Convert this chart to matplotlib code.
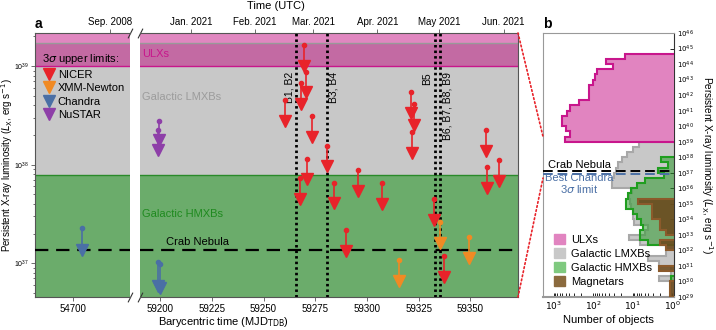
import numpy as np
import matplotlib
matplotlib.use("Agg")
import matplotlib.pyplot as plt
from matplotlib.lines import Line2D
from matplotlib.patches import Patch, ConnectionPatch

plt.rcParams['font.family'] = ['Liberation Sans', 'DejaVu Sans']
plt.rcParams['font.size'] = 7

# ---- panel a data (MJD, log10 Lx of the 3 sigma upper limit)
nicer_mjd = [59260.4, 59267.8, 59268.0, 59269.6, 59270.5, 59271.2, 59273.3, 59280.8,
             59283.9, 59289.9, 59295.8, 59307.4, 59321.1, 59321.7, 59322.9, 59332.4,
             59337.2, 59357.3, 59357.8, 59363.8]
nicer_logl = [38.655, 37.862, 38.825, 39.213, 38.942, 38.060, 38.493, 38.192,
              37.817, 37.337, 37.946, 37.810, 38.736, 38.328, 38.615, 37.651,
              37.073, 38.351, 37.973, 38.042]
xmm_mjd = [59315.3, 59335.4, 59349.3]
xmm_logl = [37.032, 37.415, 37.263]
chandra_mjd = [54702.4, 59198.9, 59200.0]
chandra_logl = [37.354, 37.012, 36.992]
nustar_mjd = [59198.9, 59199.7]
nustar_logl = [38.351, 38.445]

bursts_mjd = [59265.7, 59280.8, 59333.0, 59335.3]
bursts_lab = ["B1, B2", "B3, B4", "B5", "B6, B7, B8, B9"]

crab_logl = 37.134
chandra_best_logl = 36.95
ulx_lo = 39.0
lmxb_hi = 39.233
hmxb_hi = 37.894

top_ticks_r = [59215, 59246, 59274, 59305, 59335, 59366]
top_labels_r = ["Jan. 2021", "Feb. 2021", "Mar. 2021", "Apr. 2021", "May 2021", "Jun. 2021"]
top_ticks_l = [54710]
top_labels_l = ["Sep. 2008"]

# ---- panel b histograms (1/3 dex bins, counts listed from the lowest bin up; 0.5 = empty)
ulx_start = 39.0
ulx_counts = [515, 393, 478, 617, 617, 457, 378, 231, 130, 130, 130, 99, 89, 82, 32, 48, 16]
lmxb_start = 29.0
lmxb_counts = [1.05, 1.05, 1.05, 2.2, 1.05, 1.05, 2.2, 4.2, 1.4, 1.4, 6.5, 12.7, 5, 4, 9,
               10, 10, 11, 12, 12.6, 10.7, 33, 33, 30, 26, 23.4, 18.6, 14, 10, 7]
hmxb_start = 32.333
hmxb_counts = [4.0, 6.5, 6.5, 5.5, 6.3, 7.9, 10, 14.7, 14.7, 13, 11, 8, 4.9, 1.6, 2.3,
               1.3, 1.9]
hmxb2_start = 30.0
hmxb2_counts = [1.05]
mag_start = 29.0
mag_counts = [1.15, 1.15, 1.15, 0.5, 0.5, 2.2, 0.5, 0.5, 0.5, 1.4, 2.06, 0.5, 1.4, 2.06,
              2.06, 3.3, 3.3, 3.3, 7.2]

red = '#e8232a'
orange = '#f08a24'
blue = '#4a6fa5'
purple = '#8e3fa8'
pink = '#bf007a'
magenta = '#c8168c'
gray = '#c8c8c8'
green = '#2e9a2e'
brown = '#6b4a1e'

fig = plt.figure(figsize=(7.16, 3.30), dpi=100)
axl = fig.add_axes([35/716, 0.1, 95/716, 0.8])
axr = fig.add_axes([140/716, 0.1, 378/716, 0.8])
axb = fig.add_axes([543/716, 0.1, 131/716, 0.8])

ylo, yhi = 10**36.657, 10**39.335
axl.set_xlim(54689.7, 54715.4)
axr.set_xlim(59190.3, 59373.0)


def arrows(ax, xs, ls, col, dl=0.25):
    for x, l in zip(xs, ls):
        ax.plot([x, x], [10**l, 10**(l - dl + 0.04)], color=col, lw=1.2, zorder=5)
        ax.plot(x, 10**l, 'o', color=col, ms=3, zorder=6)
        ax.plot(x, 10**(l - dl + 0.04), 'v', color=col, ms=8, mec=col, zorder=6)


for ax in (axl, axr):
    ax.set_yscale('log')
    ax.set_ylim(ylo, yhi)
    ax.axhspan(ylo, 10**lmxb_hi, color=gray, lw=0, zorder=0)
    ax.axhspan(10**ulx_lo, yhi, color=pink, alpha=0.47, lw=0, zorder=1)
    ax.axhspan(ylo, 10**hmxb_hi, color=green, alpha=0.6, lw=0, zorder=1)
    ax.axhline(10**lmxb_hi, color='#999999', lw=1, zorder=2)
    ax.axhline(10**ulx_lo, color=magenta, lw=1, zorder=2)
    ax.axhline(10**hmxb_hi, color='#2a8a2a', lw=1, zorder=2)
    ax.axhline(10**crab_logl, color='black', lw=1.6, ls=(0, (6, 3.5)), zorder=3)
    for s in ('top', 'bottom', 'left', 'right'):
        ax.spines[s].set_color('#555555')
    ax.tick_params(axis='both', which='both', direction='out', length=3, width=0.6,
                   color='#555555', labelsize=7, pad=2)
    ax.tick_params(axis='y', which='both', labelsize=5, pad=1)
    ax.tick_params(axis='y', which='minor', length=1.5)

arrows(axr, nicer_mjd, nicer_logl, red)
arrows(axr, xmm_mjd, xmm_logl, orange)
arrows(axl, chandra_mjd[:1], chandra_logl[:1], blue, 0.26)
arrows(axr, chandra_mjd[1:], chandra_logl[1:], blue, 0.28)
arrows(axr, nustar_mjd, nustar_logl, purple, 0.24)

for m in bursts_mjd:
    axr.axvline(m, color='black', lw=2, ls=(0, (0.9, 1.1)), zorder=4)
lab_off = [-3.2, 3.2, -3.8, 3.4]
for m, lab, o in zip(bursts_mjd, bursts_lab, lab_off):
    axr.text(m + o, 10**38.94, lab, rotation=90, ha='center', va='top', fontsize=7.5, zorder=4)

axr.text(59191.5, 10**39.12, "ULXs", color=magenta, fontsize=8, va='center')
axr.text(59191.5, 10**38.69, "Galactic LMXBs", color='#9c9c9c', fontsize=8, va='center')
axr.text(59191.5, 10**37.5, "Galactic HMXBs", color='#1f8a1f', fontsize=8, va='center')
axr.text(59218, 10**37.21, "Crab Nebula", color='black', fontsize=8, ha='center', va='center')

axl.spines['right'].set_visible(False)
axr.spines['left'].set_visible(False)
axr.tick_params(axis='y', which='both', left=False, labelleft=False)
axl.set_xticks([54700])
axr.set_xticks([59200, 59225, 59250, 59275, 59300, 59325, 59350])
axl.set_ylabel(r"Persistent X-ray luminosity ($L_\mathrm{X}$, erg s$^{-1}$)", fontsize=7)
axl.yaxis.set_label_coords(-0.215, 0.5)
axr.set_xlabel(r"Barycentric time (MJD$_\mathrm{TDB}$)", fontsize=8, x=0.22, labelpad=1)

secl = axl.secondary_xaxis('top')
secl.set_xticks(top_ticks_l, top_labels_l)
secl.tick_params(length=3, width=0.6, color='#555555', labelsize=7, pad=1.5)
secr = axr.secondary_xaxis('top')
secr.set_xticks(top_ticks_r, top_labels_r)
secr.tick_params(length=3, width=0.6, color='#555555', labelsize=7, pad=1.5)
secl.spines['top'].set_visible(False)
secr.spines['top'].set_visible(False)
fig.text(276/716, 1 - 6/330, "Time (UTC)", ha='center', va='center', fontsize=8)

# broken axis marks
kw = dict(marker=[(-0.5, -1), (0.5, 1)], markersize=7, linestyle='none', color='#333333',
          mec='#333333', mew=0.8, clip_on=False)
axl.plot([1.0, 1.0], [0, 1], transform=axl.transAxes, **kw)
axr.plot([0.0, 0.0], [0, 1], transform=axr.transAxes, **kw)

handles = [Line2D([], [], marker='v', color=c, ls='none', ms=8) for c in (red, orange, blue, purple)]
leg = axl.legend(handles, ["NICER", "XMM-Newton", "Chandra", "NuSTAR"], title=r"3$\sigma$ upper limits:",
                 loc='upper left', bbox_to_anchor=(0.03, 0.945), frameon=False, fontsize=8,
                 title_fontsize=8, handletextpad=0.2, labelspacing=0.32, borderaxespad=0,
                 handlelength=1.2)
leg._legend_box.align = 'left'
leg.set_zorder(10)

# ---- panel b
axb.set_yscale('log')
axb.set_xscale('log')
axb.set_ylim(1e29, 1e46)
axb.set_xlim(10**3.27, 0.9)


def hist(start, counts, fc, ec, alpha, z):
    edges = 10**(start + np.arange(len(counts) + 1) / 3)
    axb.stairs(counts, edges, orientation='horizontal', baseline=0.5, fill=True,
               color=fc, alpha=alpha, zorder=z)
    axb.stairs(counts, edges, orientation='horizontal', baseline=0.5, fill=False,
               color=ec, lw=1.5, zorder=z + 0.5)


hist(lmxb_start, lmxb_counts, gray, '#a8a8a8', 1, 1)
hist(hmxb_start, hmxb_counts, green, '#1f9e1f', 0.55, 2)
hist(hmxb2_start, hmxb2_counts, green, '#1f9e1f', 0.55, 2)
hist(mag_start, mag_counts, brown, '#8b5a2b', 0.9, 3)
hist(ulx_start, ulx_counts, '#e184c0', magenta, 1, 4)

axb.axhline(10**crab_logl, color='black', lw=1.4, ls=(0, (5, 2.5)), zorder=6)
axb.axhline(10**chandra_best_logl, color=blue, lw=1.4, ls=(0, (5, 2.5)), zorder=6)
axb.text(10**2.35, 10**37.5, "Crab Nebula", ha='center', va='center', fontsize=8)
axb.text(10**2.35, 10**36.3, "Best Chandra\n" + r"3$\sigma$ limit", ha='center', va='center',
         fontsize=8, color=blue, linespacing=1.0)

axb.yaxis.tick_right()
axb.yaxis.set_label_position('right')
axb.set_yticks([10.0**k for k in range(29, 47)])
axb.set_yticklabels([r"$10^{%d}$" % k for k in range(29, 47)], fontsize=5)
axb.set_ylabel(r"Persistent X-ray luminosity ($L_\mathrm{X}$, erg s$^{-1}$)", fontsize=7.2,
               rotation=270, va='center')
axb.yaxis.set_label_coords(1.25, 0.5)
axb.set_xticks([1000, 100, 10, 1])
axb.set_xticklabels([r"$10^{3}$", r"$10^{2}$", r"$10^{1}$", r"$10^{0}$"], fontsize=6.5)
axb.set_xlabel("Number of objects", fontsize=8, labelpad=2)
axb.tick_params(axis='both', which='both', direction='in', length=3, width=0.6, pad=2)
axb.tick_params(axis='y', which='minor', length=1.5)
for s in ('top', 'left', 'bottom'):
    axb.spines[s].set_color('#999999')
axb.spines['bottom'].set_linewidth(1.5)
axb.spines['right'].set_color('#333333')

hb = [Patch(color=c) for c in ('#e184c0', gray, '#7fc97f', '#8b6a3e')]
axb.legend(hb, ["ULXs", "Galactic LMXBs", "Galactic HMXBs", "Magnetars"], loc='lower left',
           bbox_to_anchor=(0.05, 0.02), frameon=False, fontsize=8, handlelength=1.0,
           handleheight=1.0, handletextpad=0.5, labelspacing=0.3, borderaxespad=0)

for yy in (yhi, ylo):
    con = ConnectionPatch(xyA=(1, yy), coordsA=axr.get_yaxis_transform(),
                          xyB=(0, yy), coordsB=axb.get_yaxis_transform(),
                          color=red, ls=(0, (1, 1.5)), lw=1.2)
    fig.add_artist(con)

fig.text(35/716, 1 - 24/330, "a", fontsize=10, fontweight='bold', va='center')
fig.text(543/716, 1 - 24/330, "b", fontsize=10, fontweight='bold', va='center')

fig.savefig("out.png", dpi=100)
